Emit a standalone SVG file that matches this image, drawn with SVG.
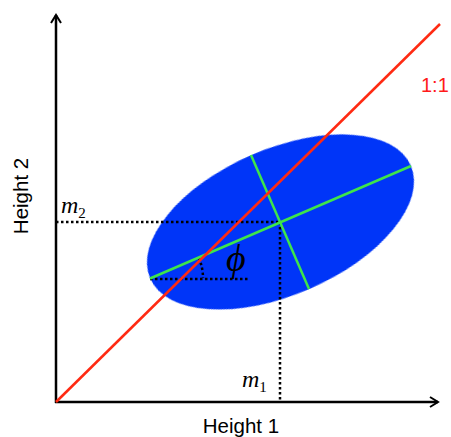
<svg xmlns="http://www.w3.org/2000/svg" width="451" height="437" viewBox="0 0 451 437">
<style>
.axis{stroke:#000;stroke-width:2.5;fill:none}
.dot{stroke:#000;stroke-width:2.5;stroke-dasharray:2.5 2.5;fill:none}
.grn{stroke:#3EE54A;stroke-width:2.5}
.lbl{font-family:"Liberation Sans",Arial,sans-serif;font-size:20.5px;fill:#000}
.math{font-family:"Liberation Serif","Times New Roman",serif;font-style:italic;fill:#000}
.sub{font-style:normal;font-size:15px}
</style>
<defs>
<marker id="arr" viewBox="0 0 12 12" refX="10" refY="6" markerWidth="12" markerHeight="12" markerUnits="userSpaceOnUse" orient="auto">
<path d="M2,1 L10,6 L2,11" fill="none" stroke="#000" stroke-width="2"/>
</marker>
<filter id="soft" x="-5%" y="-5%" width="110%" height="110%"><feGaussianBlur stdDeviation="0.7"/></filter>
</defs>
<g id="ellipse">
<ellipse cx="280.5" cy="222" rx="142" ry="73" transform="rotate(-23.4 280.5 222)" fill="#0535F8" filter="url(#soft)"/>
</g>
<g id="connectors">
<line class="axis" x1="56" y1="403" x2="56" y2="15" marker-end="url(#arr)"/>
<line class="axis" x1="55" y1="402" x2="438" y2="402" marker-end="url(#arr)"/>
<line class="dot" x1="56" y1="222" x2="280" y2="222"/>
<line class="dot" x1="280" y1="222" x2="280" y2="401"/>
<line class="dot" x1="150" y1="279" x2="250" y2="279"/>
<path class="dot" d="M199,258 Q203,268 203,278" stroke-width="2"/>
<line class="grn" x1="150" y1="278.5" x2="411" y2="166"/>
<line class="grn" x1="251" y1="155" x2="309" y2="289"/>
<line x1="56" y1="402" x2="440" y2="24" stroke="#FF2A12" stroke-width="2.5"/>
</g>
<g id="labels">
<text class="lbl" transform="translate(28,196) rotate(-90)" text-anchor="middle">Height 2</text>
<text class="lbl" x="241" y="433" text-anchor="middle">Height 1</text>
<text x="421" y="92" font-family="Liberation Sans,Arial,sans-serif" font-size="20" fill="#FF1A1A">1:1</text>
<text class="math" x="61" y="213" font-size="24">m<tspan class="sub" dy="5">2</tspan></text>
<text class="math" x="242" y="387" font-size="24">m<tspan class="sub" dy="5">1</tspan></text>
<text class="math" x="226" y="271" font-size="38">ϕ</text>
</g>
</svg>
